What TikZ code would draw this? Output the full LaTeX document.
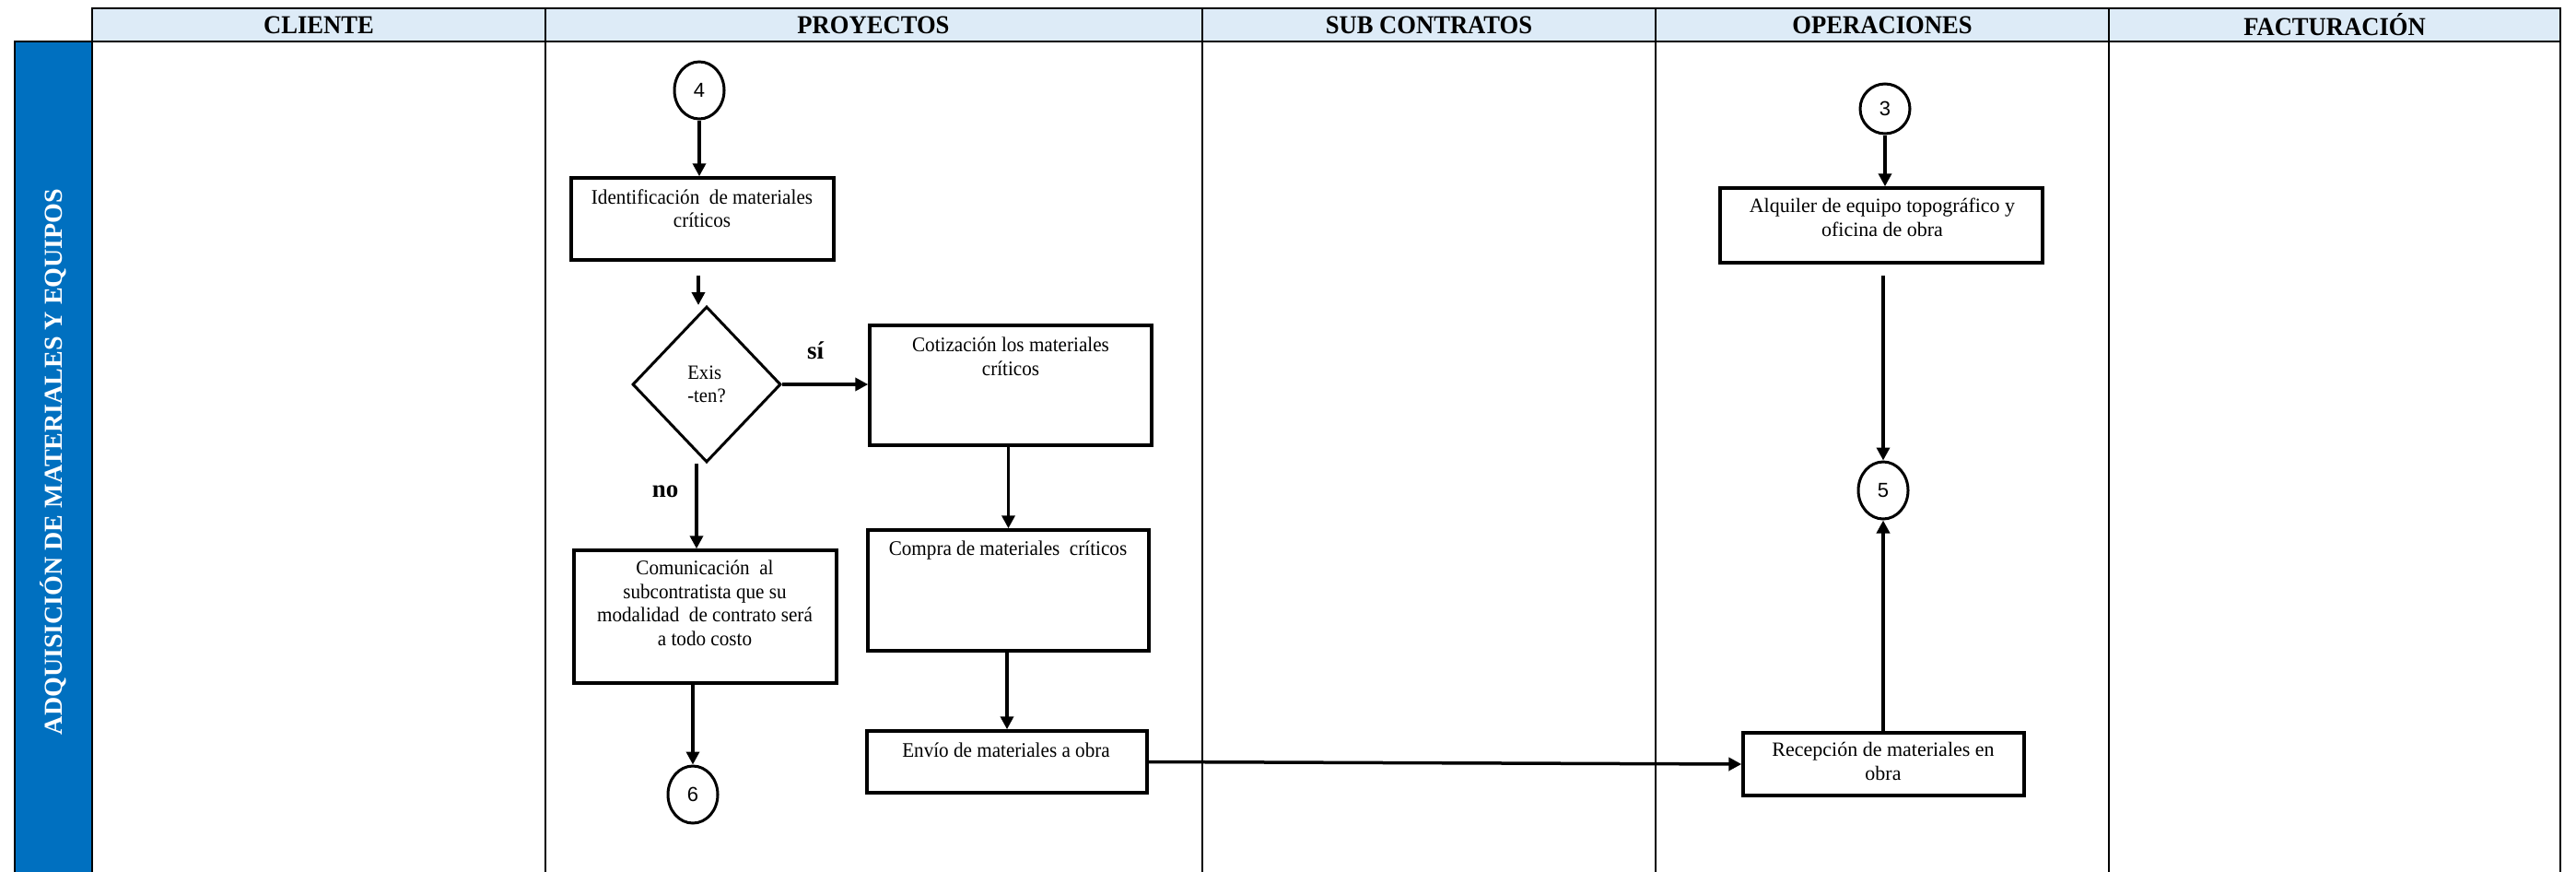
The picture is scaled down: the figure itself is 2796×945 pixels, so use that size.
\documentclass[tikz,border=0pt]{standalone}
\usepackage{fontspec}
\setmainfont{Liberation Serif}
\newfontfamily\numfont{Liberation Sans}
\newfontfamily\bodyfont[FakeStretch=0.94]{Liberation Serif}
\newfontfamily\headfont[FakeStretch=0.95]{Liberation Serif}
\usetikzlibrary{shapes.geometric,arrows.meta,calc}

\definecolor{headblue}{RGB}{221,235,247}
\definecolor{laneblue}{RGB}{0,112,192}

\begin{document}
\begin{tikzpicture}[x=1pt,y=-1pt,
  proc/.style={draw, line width=3.5pt, inner sep=0pt},
  conn/.style={draw, ellipse, line width=3pt, minimum width=54pt, minimum height=62pt,
    inner sep=0pt, font=\numfont\fontsize{22}{26}\selectfont},
  decision/.style={draw, diamond, line width=3pt, minimum width=161pt, minimum height=169pt,
    inner sep=0pt, align=left, font=\bodyfont\fontsize{22}{25}\selectfont},
  boxtext/.style={align=center, inner sep=0pt, anchor=north,
    font=\bodyfont\fontsize{22.5}{25.5}\selectfont},
  arr/.style={line width=3.5pt, -{Triangle[length=14pt,width=14pt]}},
  hdrtext/.style={font=\headfont\bfseries\fontsize{28}{30}\selectfont},
  branch/.style={font=\bfseries\fontsize{27}{30}\selectfont, inner sep=0pt},
  laneline/.style={line width=1.4pt},
  frameline/.style={line width=2pt}
]
\useasboundingbox (0,0) rectangle (2796,945);

% header row and swimlane band
\draw[frameline, fill=headblue] (100,9) rectangle (2779,45);
\draw[frameline, fill=laneblue] (16,45) rectangle (100,960);

% lane separators
\foreach \lx in {592,1305,1797,2289} {
  \draw[frameline] (\lx,9) -- (\lx,45);
  \draw[laneline] (\lx,45) -- (\lx,960);
}
\draw[laneline] (2779,45) -- (2779,960);

% column titles
\node[hdrtext] (hcli) at (346,27) {CLIENTE};
\node[hdrtext] (hpro) at (948,27) {PROYECTOS};
\node[hdrtext] (hsub) at (1551,27) {SUB CONTRATOS};
\node[hdrtext] (hope) at (2043,27) {OPERACIONES};
\node[hdrtext] (hfac) at (2534,27) {FACTURACIÓN};

% lane title
\node[font=\rmfamily\bfseries\fontsize{28}{30}\selectfont, rotate=90, text=white]
  (lanetitle) at (58,501) {ADQUISICIÓN DE MATERIALES Y EQUIPOS};

% PROYECTOS lane
\node[conn] (c4) at (759,98) {4};
\node[proc, minimum width=285pt, minimum height=89pt] (ident) at (762.5,237.5) {};
\node[boxtext] (identtxt) at (762,205) {Identificación\ \ de materiales\\críticos};

\node[decision] (dia) at (767,417) {Exis\\-ten?};

\node[proc, minimum width=306pt, minimum height=130pt] (cotiz) at (1097,418) {};
\node[boxtext] (cotiztxt) at (1097,366) {Cotización los materiales\\críticos};

\node[proc, minimum width=305pt, minimum height=131pt] (compra) at (1094.5,640.5) {};
\node[boxtext] (compratxt) at (1094,587) {Compra de materiales\ \ críticos};

\node[proc, minimum width=304pt, minimum height=67pt] (envio) at (1093,826.5) {};
\node[boxtext] (enviotxt) at (1092,806) {Envío de materiales\ a obra};

\node[proc, minimum width=285pt, minimum height=144pt] (comun) at (765.5,669) {};
\node[boxtext] (comuntxt) at (765,608)
  {Comunicación\ \ al\\subcontratista que su\\modalidad\ \ de contrato será\\a todo costo};

\node[conn] (c6) at (752,862) {6};

\node[branch] (si) at (885,380) {sí};
\node[branch] (no) at (722,533) {no};

% OPERACIONES lane
\node[conn, minimum height=54pt] (c3) at (2046,118) {3};
\node[proc, minimum width=350pt, minimum height=81pt] (alq) at (2042,244.5) {};
\node[boxtext, font=\rmfamily\fontsize{22}{25.5}\selectfont] (alqtxt) at (2043,215)
  {Alquiler de equipo topográfico y\\oficina de obra};

\node[conn] (c5) at (2044,532) {5};

\node[proc, minimum width=305pt, minimum height=68pt] (recep) at (2044.5,829) {};
\node[boxtext, font=\rmfamily\fontsize{22}{25.5}\selectfont] (receptxt) at (2044,805)
  {Recepción de materiales en\\obra};

% connectors
\draw[arr] (c4) -- (c4 |- ident.north);
\draw[arr] ($(dia.north |- ident.south)+(-9,15)$) -- ($(dia.north)+(-9,0)$);
\draw[arr] (dia.east) -- (dia.east -| cotiz.west);
\draw[arr] ($(dia.south)+(-11,0)$) -- ($(dia.south |- comun.north)+(-11,0)$);
\draw[arr] (c6 |- comun.south) -- (c6);
\draw[arr] (compra.north |- cotiz.south) -- (compra.north);
\draw[arr] (envio.north |- compra.south) -- (envio.north);
\draw[arr] (envio.east) -- (recep.west);
\draw[arr] (c3) -- (c3 |- alq.north);
\draw[arr] ($(c5 |- alq.south)+(0,12)$) -- (c5);
\draw[arr] (c5 |- recep.north) -- (c5);
\end{tikzpicture}
\end{document}
